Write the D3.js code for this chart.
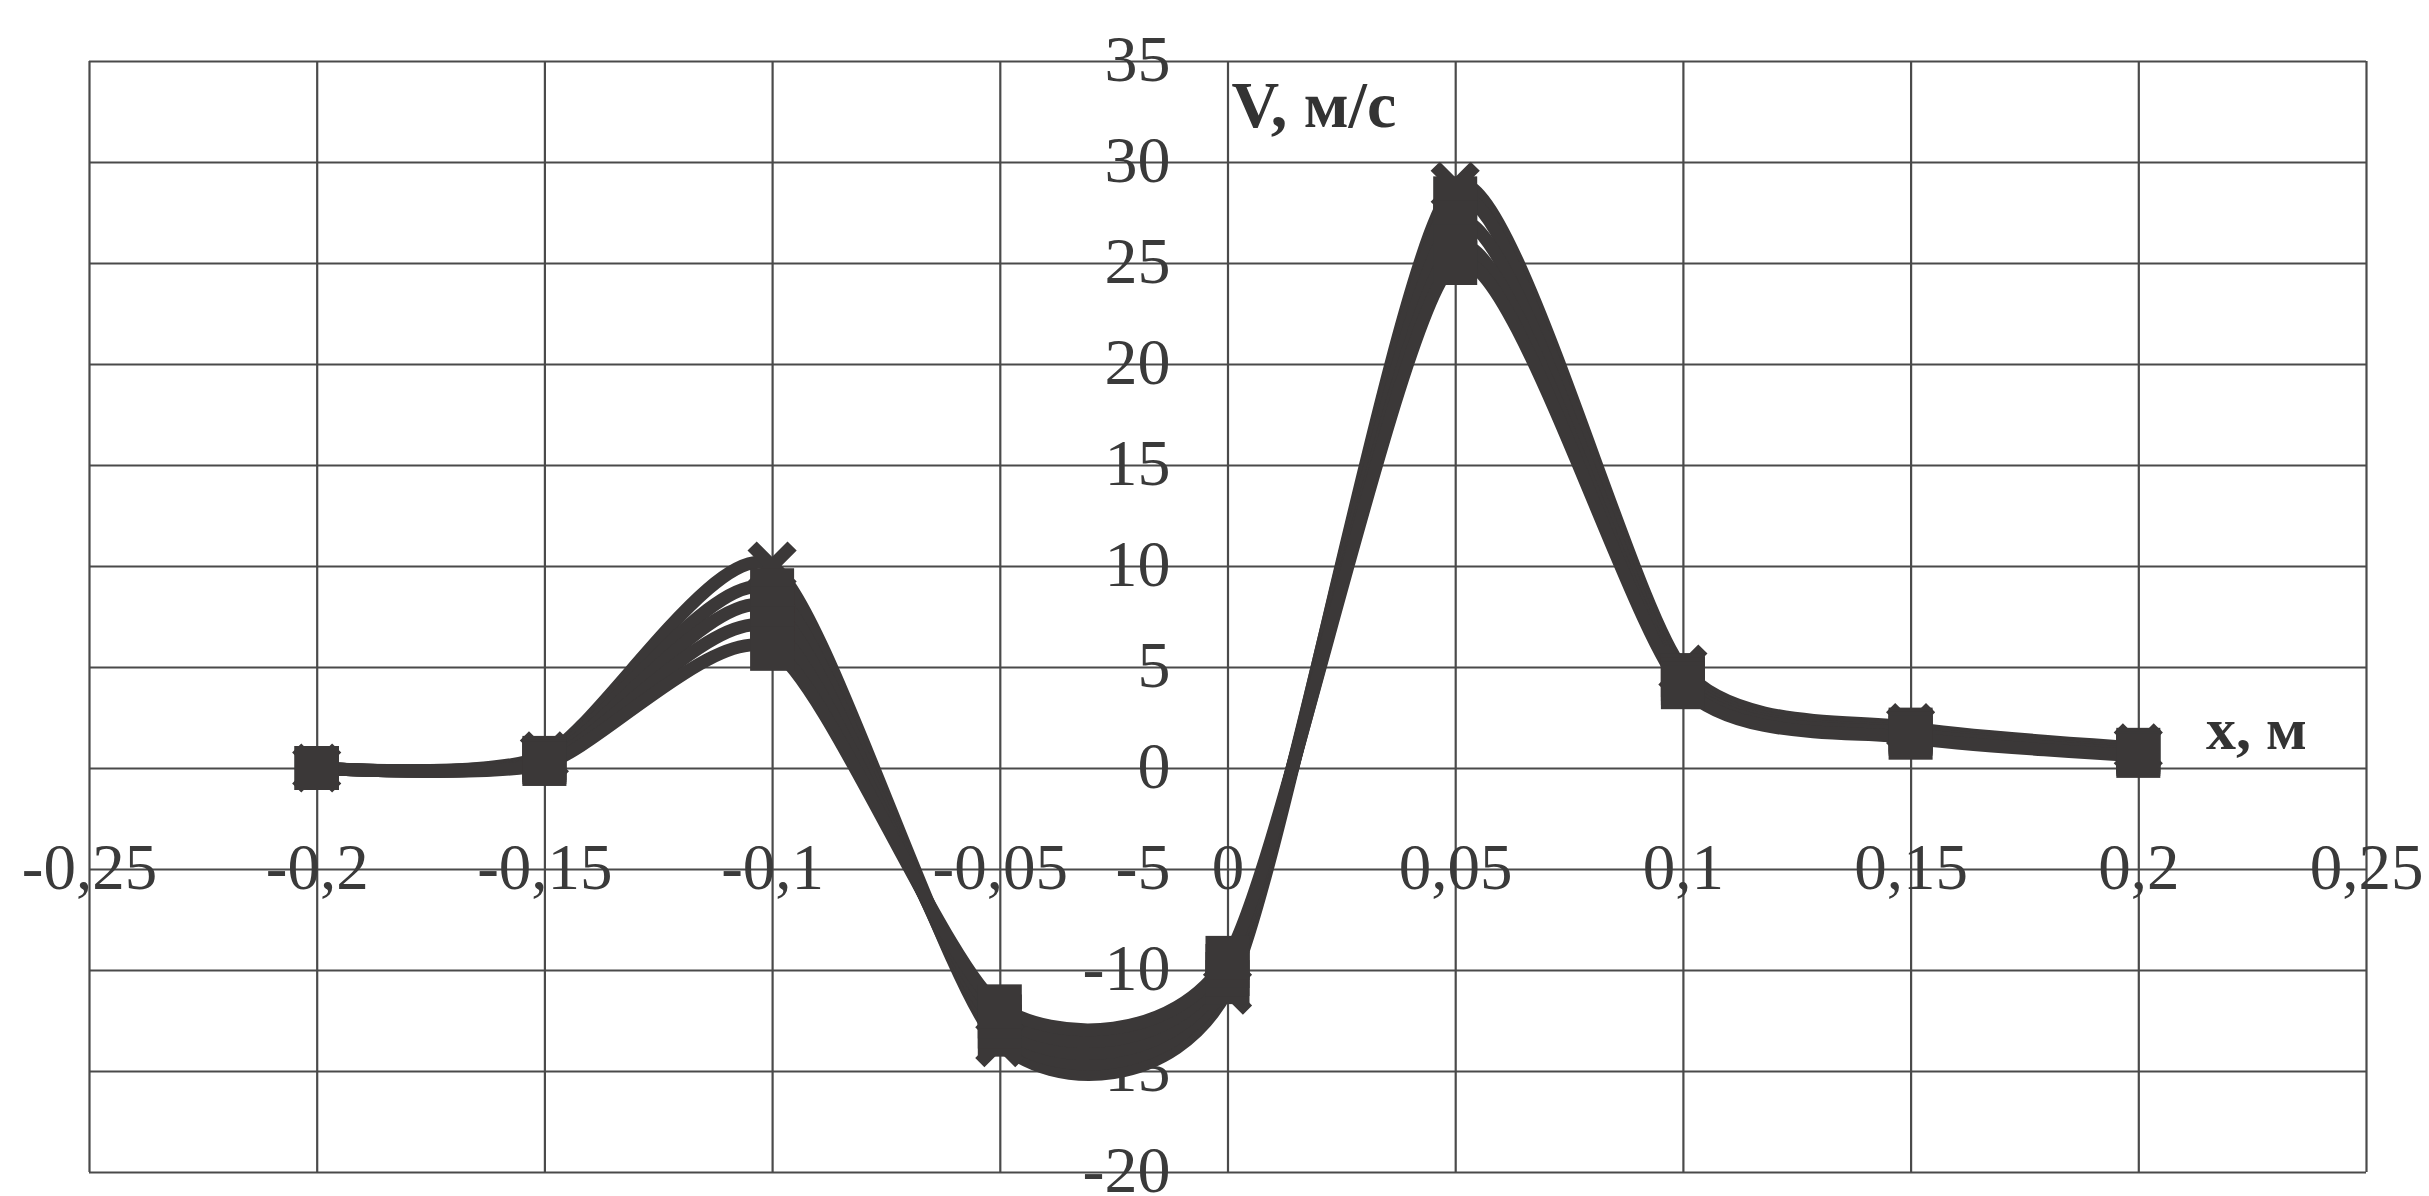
<!DOCTYPE html>
<html>
<head>
<meta charset="utf-8">
<script src="https://cdn.jsdelivr.net/npm/d3@7"></script>
<style>
    body { margin: 0; background: #fff; }
    .tick-label { font-family: "Liberation Serif", "Times New Roman", serif; fill: #3a3a3a; }
    .axis-title { font-family: "Liberation Serif", "Times New Roman", serif; font-weight: bold; fill: #333; }
</style>
</head>
<body>
<div id="chart"></div>
<script>
// x positions of the measured points, m
const xValues = [-0.2, -0.15, -0.1, -0.05, 0, 0.05, 0.1, 0.15, 0.2];

// velocity curves, m/s
const series1 = [0, 0.6, 10.0, -13.6, -11.0, 28.8, 4.9, 2.0, 1.0];
const series2 = [0, 0.5, 8.8, -13.2, -10.6, 28.2, 4.6, 1.9, 0.9];
const series3 = [0, 0.4, 7.9, -12.8, -10.2, 27.0, 4.4, 1.8, 0.8];
const series4 = [0, 0.3, 6.9, -12.3, -9.8, 25.8, 4.2, 1.7, 0.7];
const series5 = [0, 0.2, 5.9, -11.8, -9.4, 25.0, 4.0, 1.5, 0.6];
const seriesMarkers = ["cross", "square", "square", "square", "square"];

// ticks
const xTicks = [-0.25, -0.2, -0.15, -0.1, -0.05, 0, 0.05, 0.1, 0.15, 0.2, 0.25];
const xTickLabels = ["-0,25", "-0,2", "-0,15", "-0,1", "-0,05", "0", "0,05", "0,1", "0,15", "0,2", "0,25"];
const yTicks = [35, 30, 25, 20, 15, 10, 5, 0, -5, -10, -15, -20];
const yTickLabels = ["35", "30", "25", "20", "15", "10", "5", "0", "-5", "-10", "-15", "-20"];

const allSeries = [series1, series2, series3, series4, series5].map((vals, i) => ({
    marker: seriesMarkers[i],
    points: vals.map((v, j) => ({x: xValues[j], v: v}))
}));

const margin = {top: 61, right: 63, bottom: 24, left: 89};
const width = 2429 - margin.left - margin.right;
const height = 1196 - margin.top - margin.bottom;

const svg = d3.select("#chart").append("svg")
    .attr("width", 2429)
    .attr("height", 1196)
    .style("background", "#fff")
    .append("g")
    .attr("transform", "translate(" + margin.left + "," + margin.top + ")");

const x = d3.scaleLinear().domain([-0.25, 0.25]).range([0, width]);
const y = d3.scaleLinear().domain([-20, 35]).range([height, 0]);

const gridColor = "#4a4a4a";

// vertical grid
svg.append("g")
    .attr("transform", "translate(0," + height + ")")
    .call(d3.axisBottom(x).tickValues(xTicks).tickSize(-height).tickFormat(""))
    .call(g => g.select(".domain").remove())
    .call(g => g.selectAll("line").attr("stroke", gridColor).attr("stroke-width", 2.2));

// horizontal grid
svg.append("g")
    .call(d3.axisLeft(y).tickValues(yTicks).tickSize(-width).tickFormat(""))
    .call(g => g.select(".domain").remove())
    .call(g => g.selectAll("line").attr("stroke", gridColor).attr("stroke-width", 2.2));

// y tick labels next to the x = 0 line
svg.append("g")
    .attr("transform", "translate(" + x(0) + ",0)")
    .call(d3.axisLeft(y).tickValues(yTicks).tickSize(0).tickPadding(57)
        .tickFormat((d, i) => yTickLabels[i]))
    .call(g => g.select(".domain").remove())
    .call(g => g.selectAll("text")
        .attr("class", "tick-label")
        .attr("fill", null)
        .style("font-size", "66px")
        .attr("dy", "0.3em"));

// x tick labels along the -5 line
svg.append("g")
    .attr("transform", "translate(0," + y(-5) + ")")
    .call(d3.axisBottom(x).tickValues(xTicks).tickSize(0).tickPadding(0)
        .tickFormat((d, i) => xTickLabels[i]))
    .call(g => g.select(".domain").remove())
    .call(g => g.selectAll("text")
        .attr("class", "tick-label")
        .attr("fill", null)
        .style("font-size", "65px")
        .attr("y", 0)
        .attr("dy", "0.3em"));

// axis titles
svg.append("text")
    .attr("class", "axis-title")
    .attr("x", x(0) + 4)
    .attr("y", 127 - margin.top)
    .style("font-size", "66px")
    .text("V, м/с");

svg.append("text")
    .attr("class", "axis-title")
    .attr("x", 2206 - margin.left)
    .attr("y", 749 - margin.top)
    .style("font-size", "60px")
    .text("x, м");

// curves (Excel-like smoothing)
const lineColor = "#3b3838";
const line = d3.line()
    .x(d => x(d.x))
    .y(d => y(d.v))
    .curve(d3.curveCardinal.tension(0.3));

svg.selectAll(".curve")
    .data(allSeries)
    .enter().append("path")
    .attr("class", "curve")
    .attr("d", d => line(d.points))
    .attr("fill", "none")
    .attr("stroke", lineColor)
    .attr("stroke-width", 13)
    .attr("stroke-linejoin", "round");

// markers
const ms = 44;
allSeries.forEach(s => {
    const g = svg.append("g");
    if (s.marker === "square") {
        g.selectAll("rect")
            .data(s.points)
            .enter().append("rect")
            .attr("x", d => x(d.x) - ms / 2)
            .attr("y", d => y(d.v) - ms / 2)
            .attr("width", ms)
            .attr("height", ms)
            .attr("fill", lineColor);
    } else {
        const cross = g.selectAll("g")
            .data(s.points)
            .enter().append("g")
            .attr("transform", d => "translate(" + x(d.x) + "," + y(d.v) + ")");
        cross.append("path")
            .attr("d", "M-20,-20L20,20M20,-20L-20,20")
            .attr("stroke", lineColor)
            .attr("stroke-width", 13);
    }
});
</script>
</body>
</html>
